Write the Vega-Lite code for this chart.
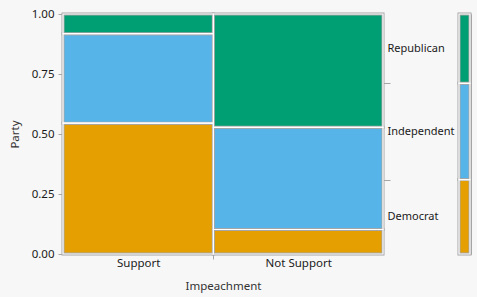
{
  "$schema": "https://vega.github.io/schema/vega-lite/v6.json",
  "background": "#f7f7f7",
  "padding": {"left": 8, "top": 7, "right": 5, "bottom": 4},
  "config": {
    "font": "Noto Sans",
    "view": {"stroke": "#a6a6a6", "strokeWidth": 1},
    "axis": {
      "domainColor": "#a6a6a6",
      "tickColor": "#a6a6a6",
      "labelColor": "#1a1a1a",
      "titleColor": "#333333",
      "labelFont": "Noto Sans",
      "titleFont": "Noto Sans",
      "labelFontSize": 11.5,
      "titleFontSize": 11.5,
      "titleFontWeight": "normal",
      "grid": false,
      "labelFlush": false,
      "labelOverlap": false
    }
  },
  "datasets": {
    "cells": [
      {"Impeachment": "Support", "Party": "Democrat", "x0": 0, "x1": 0.47, "y0": 0, "y1": 0.545},
      {"Impeachment": "Support", "Party": "Independent", "x0": 0, "x1": 0.47, "y0": 0.545, "y1": 0.918},
      {"Impeachment": "Support", "Party": "Republican", "x0": 0, "x1": 0.47, "y0": 0.918, "y1": 1},
      {"Impeachment": "Not Support", "Party": "Democrat", "x0": 0.47, "x1": 1, "y0": 0, "y1": 0.102},
      {"Impeachment": "Not Support", "Party": "Independent", "x0": 0.47, "x1": 1, "y0": 0.102, "y1": 0.528},
      {"Impeachment": "Not Support", "Party": "Republican", "x0": 0.47, "x1": 1, "y0": 0.528, "y1": 1}
    ],
    "margin": [
      {"Party": "Democrat", "m0": 0, "m1": 0.31},
      {"Party": "Independent", "m0": 0.31, "m1": 0.711},
      {"Party": "Republican", "m0": 0.711, "m1": 1}
    ]
  },
  "spacing": 75,
  "bounds": "flush",
  "hconcat": [
    {
      "width": 320,
      "height": 240,
      "layer": [
        {
          "data": {"name": "cells"},
          "mark": {"type": "rect", "stroke": "#a6a6a6", "strokeWidth": 3},
          "encoding": {
            "x": {
              "field": "x0", "type": "quantitative",
              "scale": {"domain": [0, 1], "nice": false, "zero": false},
              "axis": {
                "title": "Impeachment",
                "values": [0.235, 0.47, 0.735],
                "labelExpr": "datum.value < 0.3 ? 'Support' : (datum.value > 0.6 ? 'Not Support' : '')",
                "tickSize": 5,
                "tickOpacity": {"condition": {"test": "datum.value == 0.47", "value": 1}, "value": 0},
                "labelPadding": -2,
                "titlePadding": 12
              }
            },
            "x2": {"field": "x1"},
            "y": {
              "field": "y0", "type": "quantitative",
              "scale": {"domain": [0, 1], "nice": false, "zero": false},
              "axis": {
                "title": "Party",
                "values": [0, 0.25, 0.5, 0.75, 1],
                "format": ".2f",
                "tickSize": 5,
                "labelPadding": 4,
                "titlePadding": 11
              }
            },
            "y2": {"field": "y1"},
            "color": {
              "field": "Party", "type": "nominal",
              "scale": {"domain": ["Democrat", "Independent", "Republican"], "range": ["#e69f00", "#56b4e9", "#009e73"]},
              "legend": null
            }
          }
        },
        {
          "data": {"name": "cells"},
          "mark": {"type": "rect", "fillOpacity": 0, "stroke": "#ffffff", "strokeWidth": 1.2},
          "encoding": {
            "x": {"field": "x0", "type": "quantitative"},
            "x2": {"field": "x1"},
            "y": {"field": "y0", "type": "quantitative", "scale": {"domain": [0, 1], "nice": false, "zero": false}, "axis": null},
            "y2": {"field": "y1"}
          }
        },
        {
          "data": {"name": "margin"},
          "mark": {"type": "rect", "opacity": 0},
          "encoding": {
            "y": {
              "field": "m0", "type": "quantitative",
              "scale": {"domain": [0, 1], "nice": false, "zero": false},
              "axis": {
                "orient": "right",
                "title": null,
                "domain": false,
                "values": [0.155, 0.31, 0.51, 0.711, 0.855],
                "labelExpr": "datum.value == 0.155 ? 'Democrat' : (datum.value == 0.51 ? 'Independent' : (datum.value == 0.855 ? 'Republican' : ''))",
                "labelFontSize": 11,
                "tickSize": 7,
                "tickOpacity": {"condition": {"test": "datum.value == 0.31 || datum.value == 0.711", "value": 1}, "value": 0},
                "labelPadding": -3
              }
            },
            "y2": {"field": "m1"}
          }
        }
      ],
      "resolve": {"scale": {"y": "independent"}}
    },
    {
      "width": 13,
      "height": 240,
      "data": {"name": "margin"},
      "encoding": {
        "x": {"datum": "bar", "type": "nominal", "scale": {"paddingInner": 0, "paddingOuter": 0.09}, "axis": null},
        "y": {"field": "m0", "type": "quantitative", "scale": {"domain": [0, 1], "nice": false, "zero": false}, "axis": null},
        "y2": {"field": "m1"}
      },
      "layer": [
        {
          "mark": {"type": "bar", "stroke": "#a6a6a6", "strokeWidth": 3},
          "encoding": {
            "color": {
              "field": "Party", "type": "nominal",
              "scale": {"domain": ["Democrat", "Independent", "Republican"], "range": ["#e69f00", "#56b4e9", "#009e73"]},
              "legend": null
            }
          }
        },
        {
          "mark": {"type": "bar", "fillOpacity": 0, "stroke": "#ffffff", "strokeWidth": 1.2},
          "encoding": {}
        }
      ]
    }
  ]
}
